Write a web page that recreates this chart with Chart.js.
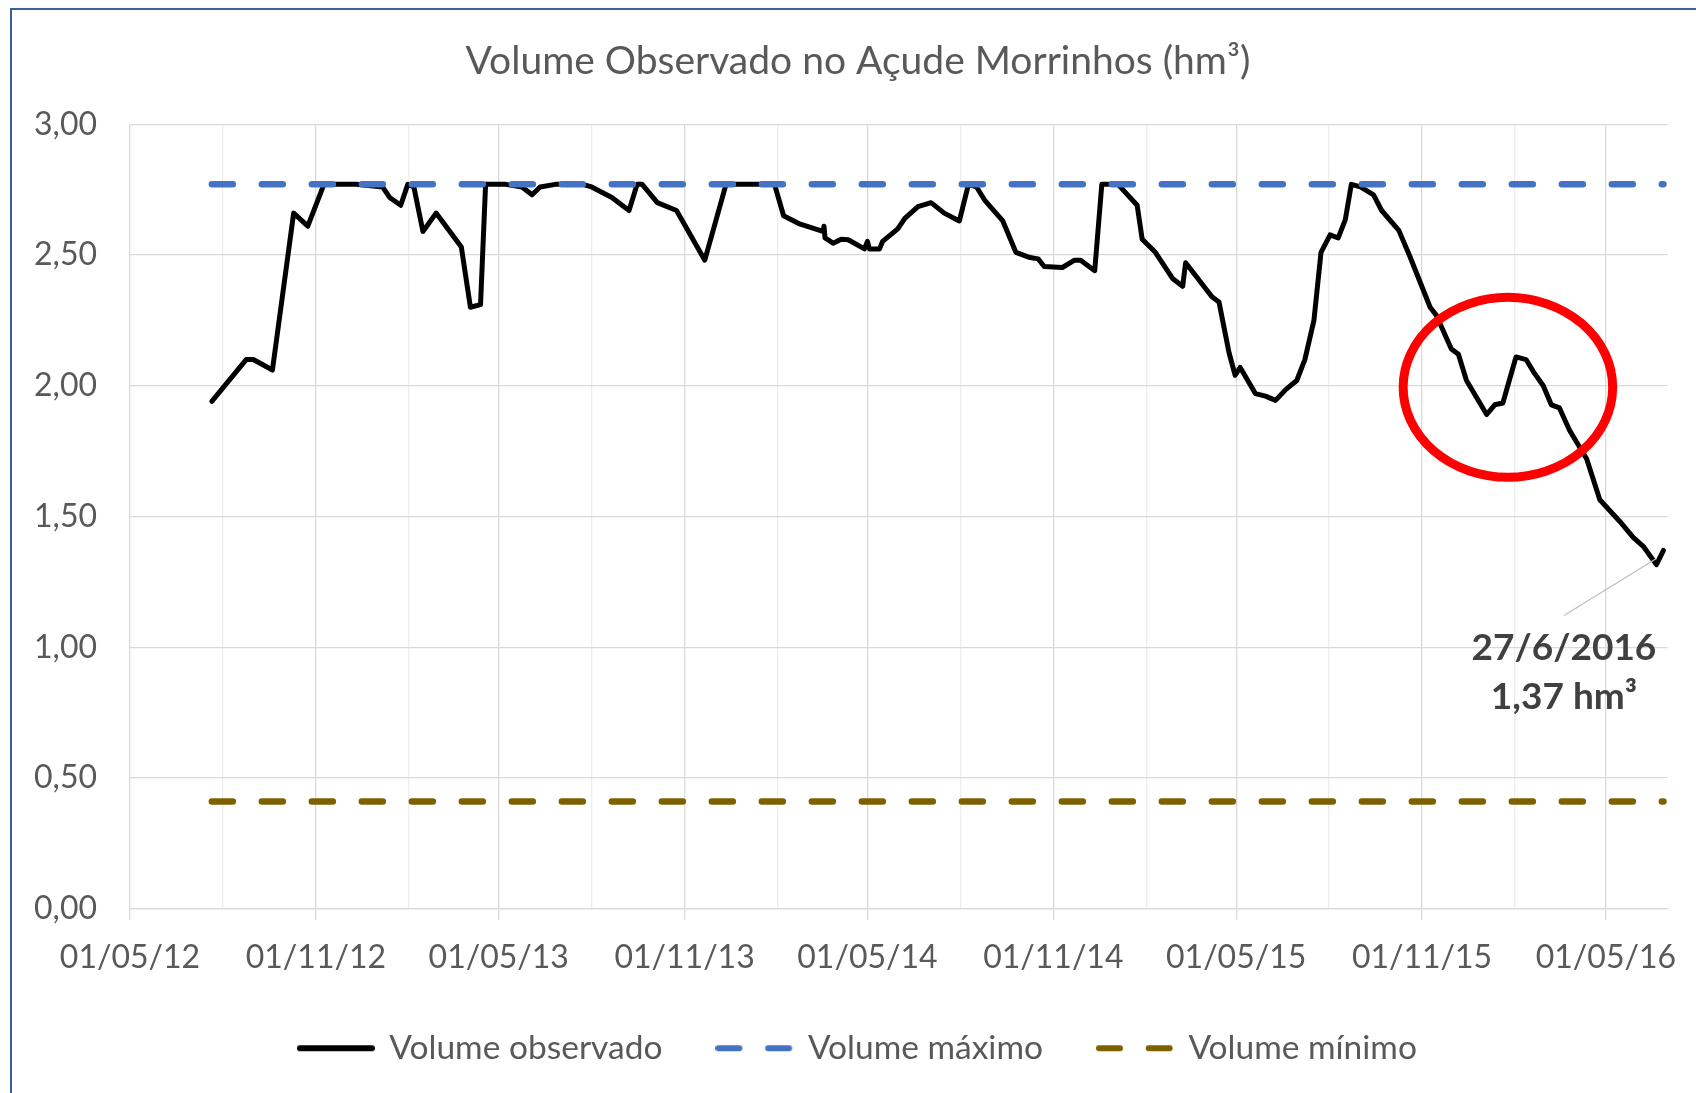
<!DOCTYPE html>
<html>
<head>
<meta charset="utf-8">
<title>Volume Observado no Açude Morrinhos</title>
<script src="https://cdn.jsdelivr.net/npm/chart.js@4.4.1/dist/chart.umd.min.js"></script>
<style>
  html, body { margin: 0; padding: 0; background: #fff; }
  #wrap { position: relative; width: 1696px; height: 1093px; overflow: hidden; }
  #frame {
    position: absolute; left: 10px; top: 8px; width: 2000px; height: 2000px;
    border-left: 2px solid #3c5e9c; border-top: 2px solid #3c5e9c;
    pointer-events: none;
  }
</style>
</head>
<body>
<div id="wrap">
  <canvas id="volChart" width="1696" height="1093"></canvas>
  <div id="frame"></div>
</div>
<script>
const obsDates = [
  '2012-07-21', '2012-08-24', '2012-08-31', '2012-09-19', '2012-10-10', '2012-10-24', '2012-11-09', '2012-12-11',
  '2013-01-06', '2013-01-13', '2013-01-24', '2013-01-31', '2013-02-06', '2013-02-15', '2013-02-28', '2013-03-25',
  '2013-04-03', '2013-04-13', '2013-04-18', '2013-05-08', '2013-05-24', '2013-06-03', '2013-06-11', '2013-06-26',
  '2013-07-23', '2013-08-01', '2013-08-21', '2013-09-07', '2013-09-15', '2013-09-20', '2013-10-05', '2013-10-24',
  '2013-11-21', '2013-12-12', '2014-01-29', '2014-02-07', '2014-02-22', '2014-03-18', '2014-03-19', '2014-03-20',
  '2014-03-28', '2014-04-05', '2014-04-12', '2014-04-28', '2014-05-01', '2014-05-03', '2014-05-13', '2014-05-16',
  '2014-05-31', '2014-06-07', '2014-06-20', '2014-07-03', '2014-07-16', '2014-07-31', '2014-08-09', '2014-08-17',
  '2014-08-25', '2014-09-12', '2014-09-25', '2014-10-09', '2014-10-17', '2014-10-23', '2014-11-10', '2014-11-22',
  '2014-11-28', '2014-12-12', '2014-12-19', '2015-01-04', '2015-01-23', '2015-01-28', '2015-02-10', '2015-02-27',
  '2015-03-09', '2015-03-12', '2015-04-07', '2015-04-14', '2015-04-24', '2015-04-30', '2015-05-05', '2015-05-20',
  '2015-05-30', '2015-06-09', '2015-06-19', '2015-06-30', '2015-07-08', '2015-07-17', '2015-07-24', '2015-08-02',
  '2015-08-10', '2015-08-17', '2015-08-23', '2015-09-01', '2015-09-14', '2015-09-22', '2015-10-09', '2015-10-20',
  '2015-11-09', '2015-11-15', '2015-11-30', '2015-12-07', '2015-12-15', '2016-01-04', '2016-01-12', '2016-01-20',
  '2016-02-02', '2016-02-12', '2016-02-19', '2016-02-29', '2016-03-08', '2016-03-16', '2016-03-26', '2016-04-12',
  '2016-04-25', '2016-05-15', '2016-05-28', '2016-06-07', '2016-06-20', '2016-06-27'
];
const obsValues = [
  1.94, 2.10, 2.10, 2.06, 2.66, 2.61, 2.77, 2.77,
  2.76, 2.72, 2.69, 2.77, 2.76, 2.59, 2.66, 2.53,
  2.30, 2.31, 2.77, 2.77, 2.76, 2.73, 2.76, 2.77,
  2.77, 2.76, 2.72, 2.67, 2.77, 2.77, 2.70, 2.67,
  2.48, 2.77, 2.77, 2.65, 2.62, 2.59, 2.61, 2.565,
  2.545, 2.56, 2.558, 2.523, 2.552, 2.523, 2.523, 2.552,
  2.60, 2.64, 2.685, 2.70, 2.66, 2.63, 2.77, 2.76,
  2.71, 2.63, 2.51, 2.49, 2.485, 2.456, 2.452, 2.48,
  2.48, 2.44, 2.77, 2.77, 2.69, 2.56, 2.51, 2.41,
  2.38, 2.47, 2.34, 2.32, 2.125, 2.04, 2.07, 1.97,
  1.96, 1.944, 1.985, 2.02, 2.10, 2.25, 2.51, 2.577,
  2.565, 2.634, 2.77, 2.76, 2.73, 2.67, 2.594, 2.494,
  2.30, 2.27, 2.14, 2.12, 2.02, 1.89, 1.927, 1.934,
  2.11, 2.10, 2.055, 2.00, 1.927, 1.915, 1.83, 1.72,
  1.564, 1.48, 1.42, 1.386, 1.316, 1.37
];

// reference levels
const maxDates = ['2012-07-21', '2016-06-27'];
const maxValues = [2.77, 2.77];
const minDates = ['2012-07-21', '2016-06-27'];
const minValues = [0.41, 0.41];

// x axis: gridline every 3 months, label every 6 months
const xTickDates = [
  '2012-05-01', '2012-08-01', '2012-11-01', '2013-02-01', '2013-05-01', '2013-08-01', '2013-11-01',
  '2014-02-01', '2014-05-01', '2014-08-01', '2014-11-01', '2015-02-01', '2015-05-01', '2015-08-01',
  '2015-11-01', '2016-02-01', '2016-05-01'
];
const xMin = '2012-05-01';
const xMax = '2016-07-01';
const yTicks = [0, 0.5, 1, 1.5, 2, 2.5, 3];

const titleText = 'Volume Observado no Açude Morrinhos (hm³)';
const calloutLines = ['27/6/2016', '1,37 hm³'];
// red ring drawn around the early 2016 bump (data units)
const ring = { date: '2016-01-25', value: 1.994, halfDays: 103.7, halfValue: 0.344 };

const DAY = 86400000;
function toTime(s) {
  const p = s.split('-');
  return Date.UTC(+p[0], +p[1] - 1, +p[2]);
}
function fmtDate(t) {
  const d = new Date(t);
  const dd = String(d.getUTCDate()).padStart(2, '0');
  const mm = String(d.getUTCMonth() + 1).padStart(2, '0');
  const yy = String(d.getUTCFullYear()).slice(2);
  return dd + '/' + mm + '/' + yy;
}
function toPoints(dates, values) {
  return dates.map((d, i) => ({ x: toTime(d), y: values[i] }));
}

// little line sample used as legend symbol (Excel style "- -")
function legendSample(color, dash) {
  const c = document.createElement('canvas');
  c.width = 78;
  c.height = 10;
  const g = c.getContext('2d');
  g.strokeStyle = color;
  g.lineWidth = 6;
  g.lineCap = 'round';
  g.setLineDash(dash);
  g.beginPath();
  g.moveTo(3, 5);
  g.lineTo(75, 5);
  g.stroke();
  return c;
}

const calloutPlugin = {
  id: 'callout',
  afterDatasetsDraw(chart) {
    const { ctx, scales: { x, y } } = chart;

    // red ellipse
    const cx = x.getPixelForValue(toTime(ring.date));
    const cy = y.getPixelForValue(ring.value);
    const rx = x.getPixelForValue(toTime(ring.date) + ring.halfDays * DAY) - cx;
    const ry = cy - y.getPixelForValue(ring.value + ring.halfValue);
    ctx.save();
    ctx.beginPath();
    ctx.ellipse(cx, cy, rx, ry, 0, 0, Math.PI * 2);
    ctx.strokeStyle = '#ff0000';
    ctx.lineWidth = 9;
    ctx.stroke();

    // data label of the last point
    const meta = chart.getDatasetMeta(0);
    const last = meta.data[meta.data.length - 1];
    const lx = last.x - 99.5;
    ctx.beginPath();
    ctx.moveTo(lx, last.y + 65);
    ctx.lineTo(last.x - 7, last.y + 8);
    ctx.strokeStyle = '#bfbfbf';
    ctx.lineWidth = 1.3;
    ctx.stroke();

    ctx.fillStyle = '#404040';
    ctx.font = 'bold 37px Lato';
    ctx.textAlign = 'center';
    ctx.textBaseline = 'alphabetic';
    ctx.fillText(calloutLines[0], lx, last.y + 110);
    ctx.fillText(calloutLines[1], lx, last.y + 159);
    ctx.restore();
  }
};

const ctx = document.getElementById('volChart').getContext('2d');

const volChart = new Chart(ctx, {
  type: 'line',
  data: {
    datasets: [
      {
        label: 'Volume observado',
        data: toPoints(obsDates, obsValues),
        borderColor: '#000000',
        backgroundColor: '#000000',
        borderWidth: 5,
        borderJoinStyle: 'round',
        borderCapStyle: 'round',
        pointRadius: 0,
        tension: 0,
        order: 1
      },
      {
        label: 'Volume máximo',
        data: toPoints(maxDates, maxValues),
        borderColor: '#4472c4',
        backgroundColor: '#4472c4',
        borderWidth: 6.5,
        borderDash: [21, 29],
        borderCapStyle: 'round',
        pointRadius: 0,
        order: 0
      },
      {
        label: 'Volume mínimo',
        data: toPoints(minDates, minValues),
        borderColor: '#7f6000',
        backgroundColor: '#7f6000',
        borderWidth: 6.5,
        borderDash: [21, 29],
        borderCapStyle: 'round',
        pointRadius: 0,
        order: 0
      }
    ]
  },
  options: {
    responsive: false,
    animation: false,
    devicePixelRatio: 1,
    layout: { padding: { left: 20, right: 0, top: 0, bottom: 18 } },
    plugins: {
      title: {
        display: true,
        text: titleText,
        color: '#595959',
        font: { family: 'Lato', size: 39, weight: 'normal' },
        padding: { top: 38.4, bottom: 39 }
      },
      legend: {
        position: 'bottom',
        labels: {
          usePointStyle: true,
          pointStyleWidth: 73.5,
          color: '#595959',
          font: { family: 'Lato', size: 33.5 },
          padding: 55.25,
          generateLabels: (chart) => chart.data.datasets.map((ds, i) => ({
            text: ds.label,
            datasetIndex: i,
            fillStyle: ds.borderColor,
            strokeStyle: ds.borderColor,
            lineWidth: 6,
            pointStyle: legendSample(ds.borderColor, ds.borderDash ? [21, 28.7] : []),
            fontColor: '#595959',
            hidden: false
          }))
        }
      },
      tooltip: { enabled: false }
    },
    scales: {
      x: {
        type: 'linear',
        min: toTime(xMin),
        max: toTime(xMax),
        bounds: 'data',
        afterBuildTicks: (scale) => {
          scale.ticks = xTickDates.map((d) => {
            const m = +d.split('-')[1];
            return { value: toTime(d), major: m === 5 || m === 11 };
          });
        },
        afterFit: (scale) => { scale.height = 67.5; },
        grid: {
          color: (c) => (c.tick && c.tick.major ? '#d9d9d9' : '#ededed'),
          tickColor: (c) => (c.tick && c.tick.major ? '#d9d9d9' : 'rgba(0,0,0,0)'),
          lineWidth: 1.3,
          tickLength: 11
        },
        border: { color: '#d9d9d9', width: 1.3 },
        ticks: {
          autoSkip: false,
          maxRotation: 0,
          minRotation: 0,
          padding: 19,
          color: '#595959',
          font: { family: 'Lato', size: 32 },
          callback: (value, i, ticks) => (ticks[i].major ? fmtDate(value) : '')
        }
      },
      y: {
        min: 0,
        max: 3,
        afterBuildTicks: (scale) => {
          scale.ticks = yTicks.map((v) => ({ value: v }));
        },
        afterFit: (scale) => { scale.width = 110; },
        grid: { color: '#d9d9d9', lineWidth: 1.3, drawTicks: false },
        border: { display: false },
        ticks: {
          padding: 33,
          color: '#595959',
          font: { family: 'Lato', size: 32 },
          callback: (value) => value.toFixed(2).replace('.', ',')
        }
      },
      // empty right-hand spacer so the plot ends where the original does
      spacer: {
        position: 'right',
        display: true,
        afterFit: (scale) => { scale.width = 24; },
        grid: { display: false, drawTicks: false },
        border: { display: false },
        ticks: { display: false }
      }
    }
  },
  plugins: [calloutPlugin]
});
</script>
</body>
</html>
